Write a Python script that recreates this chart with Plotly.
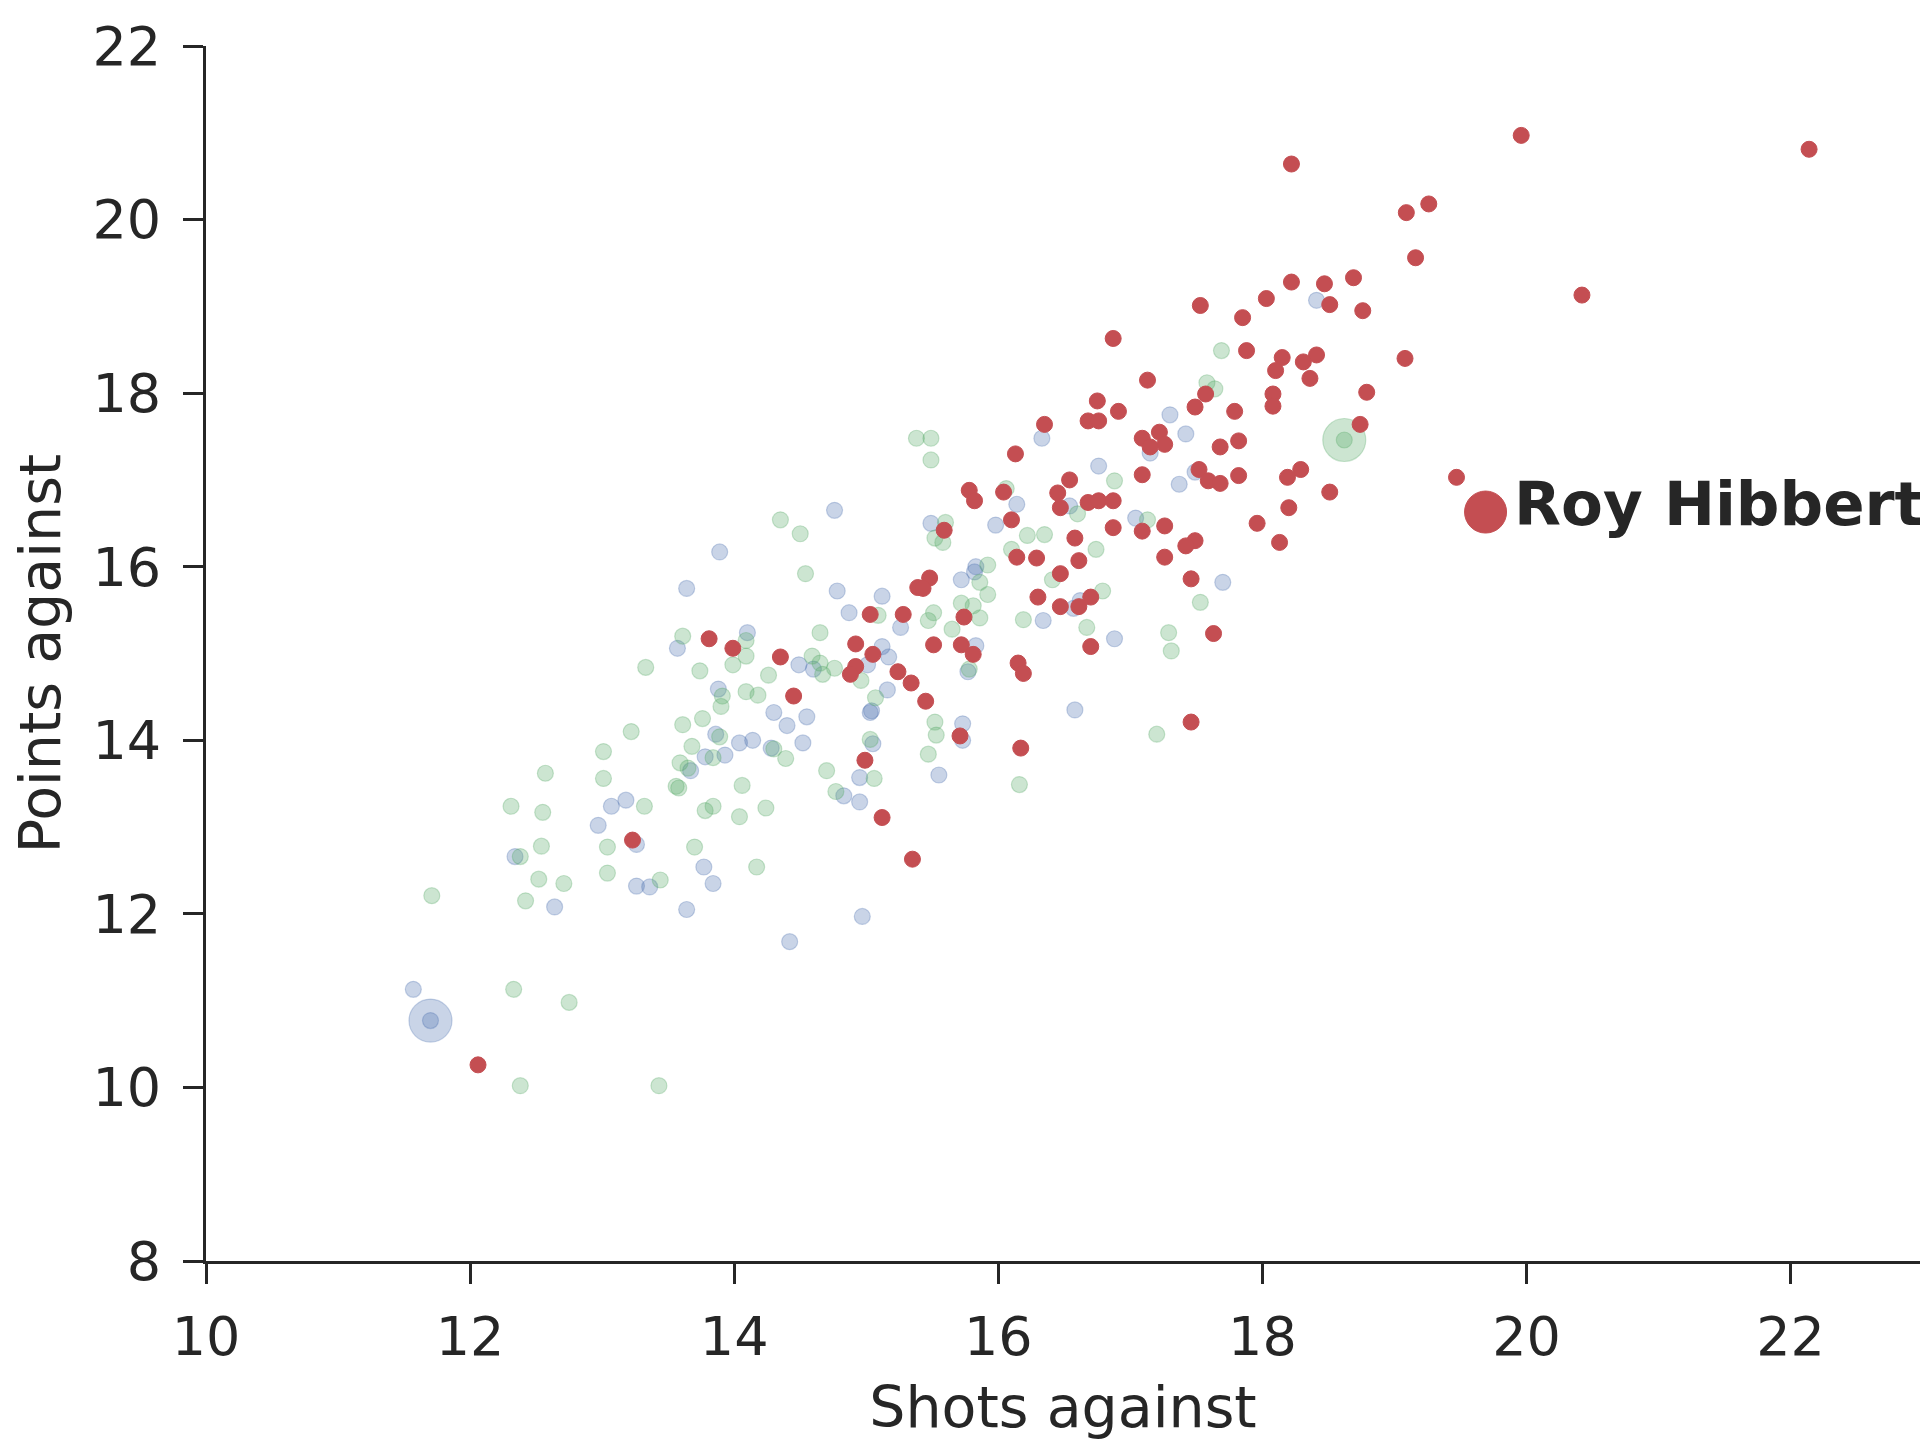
import plotly.graph_objects as go

# ---- data (Shots against, Points against) ----
red_x = [19.96, 22.14, 18.22, 19.26, 19.09, 19.16, 18.69, 18.22, 18.47, 18.03, 18.51, 18.76, 17.53, 20.42,
         17.85, 16.87, 17.88, 18.15, 18.41, 18.31, 18.10, 19.08, 18.36, 17.13, 18.79, 17.57, 18.08, 16.75,
         17.49, 18.08, 17.79, 16.91, 16.68, 16.76, 16.35, 18.74, 17.22, 17.09, 17.26, 17.82, 17.68, 16.13,
         18.29, 18.19, 17.52, 17.82, 17.59, 17.68, 16.54, 17.09, 19.47, 15.78, 16.45, 16.04, 18.51, 15.82,
         16.68, 16.47, 16.76, 16.87, 18.20, 16.10, 17.96, 17.26, 16.87, 17.09, 15.59, 16.58, 17.49, 18.13,
         17.42, 16.14, 16.29, 17.26, 16.61, 16.47, 17.46, 15.48, 15.39, 15.43, 16.30, 16.70, 16.61, 16.47,
         15.03, 15.28, 15.74, 13.81, 17.63, 13.99, 15.51, 15.72, 16.70, 14.92, 14.35, 15.05, 15.81, 16.15,
         14.92, 16.19, 14.88, 15.24, 15.34, 14.45, 15.45, 17.46, 15.71, 16.17, 14.99, 15.12, 13.23, 15.35,
         12.06, 17.15]
red_y = [20.97, 20.81, 20.64, 20.18, 20.08, 19.56, 19.33, 19.28, 19.26, 19.09, 19.02, 18.95, 19.01, 19.13,
         18.87, 18.63, 18.49, 18.41, 18.44, 18.36, 18.26, 18.40, 18.17, 18.15, 18.01, 17.99, 17.99, 17.91,
         17.84, 17.85, 17.79, 17.79, 17.68, 17.68, 17.64, 17.64, 17.55, 17.48, 17.41, 17.45, 17.38, 17.30,
         17.12, 17.03, 17.12, 17.05, 16.99, 16.96, 17.00, 17.06, 17.03, 16.88, 16.85, 16.86, 16.86, 16.76,
         16.74, 16.68, 16.76, 16.76, 16.68, 16.54, 16.50, 16.47, 16.45, 16.41, 16.42, 16.33, 16.30, 16.28,
         16.24, 16.11, 16.10, 16.11, 16.07, 15.92, 15.86, 15.87, 15.76, 15.75, 15.65, 15.65, 15.54, 15.54,
         15.45, 15.45, 15.42, 15.17, 15.23, 15.06, 15.10, 15.10, 15.08, 15.11, 14.96, 14.99, 14.99, 14.89,
         14.85, 14.77, 14.76, 14.79, 14.66, 14.51, 14.45, 14.21, 14.05, 13.91, 13.77, 13.11, 12.85, 12.63,
         10.26, 17.38]

blue_x = [11.57, 11.70, 12.34, 12.64, 12.97, 13.07, 13.18, 13.26, 13.26, 13.36, 13.64, 13.77, 13.84, 13.78,
          13.93, 13.86, 13.88, 14.04, 14.14, 14.28, 14.30, 14.40, 14.52, 14.55, 14.49, 14.60, 14.42, 13.57,
          13.64, 13.89, 14.10, 13.67, 14.76, 14.78, 14.87, 14.83, 14.95, 14.95, 14.97, 15.03, 15.04, 15.12,
          15.12, 15.16, 15.17, 15.26, 15.49, 15.55, 15.72, 15.77, 15.73, 15.73, 15.83, 15.82, 15.83, 15.98,
          16.14, 16.33, 16.34, 16.57, 16.62, 16.58, 16.76, 16.88, 17.15, 17.30, 17.42, 17.37, 17.49, 17.70,
          18.41, 16.54, 17.04, 15.01, 15.05]
blue_y = [11.13, 10.77, 12.66, 12.08, 13.02, 13.24, 13.31, 12.80, 12.32, 12.31, 12.05, 12.54, 12.35, 13.81,
          13.83, 14.07, 14.59, 13.97, 14.00, 13.91, 14.32, 14.17, 13.97, 14.27, 14.87, 14.82, 11.68, 15.06,
          15.75, 16.17, 15.24, 13.65, 16.65, 15.72, 15.47, 13.36, 13.57, 13.29, 11.97, 14.32, 14.34, 15.66,
          15.08, 14.58, 14.96, 15.30, 16.50, 13.60, 15.85, 14.79, 14.19, 14.00, 16.00, 15.94, 15.09, 16.48,
          16.72, 17.48, 15.38, 15.52, 15.61, 14.35, 17.16, 15.17, 17.31, 17.75, 17.53, 16.95, 17.09, 15.82,
          19.07, 16.70, 16.56, 14.87, 13.96]

green_x = [11.71, 12.33, 12.38, 13.43, 12.75, 12.31, 12.38, 12.42, 12.52, 12.55, 12.57, 12.54, 12.71, 13.01,
           13.01, 13.04, 13.04, 13.22, 13.32, 13.33, 13.44, 13.56, 13.58, 13.59, 13.61, 13.61, 13.65, 13.68,
           13.70, 13.74, 13.76, 13.78, 13.84, 13.90, 13.91, 13.84, 13.89, 13.99, 14.06, 14.04, 14.09, 14.09,
           14.09, 14.17, 14.18, 14.24, 14.26, 14.30, 14.35, 14.39, 14.50, 14.54, 14.59, 14.65, 14.65, 14.67,
           14.76, 14.70, 14.77, 15.03, 15.06, 15.07, 15.09, 14.96, 15.38, 15.49, 15.49, 15.52, 15.58, 15.60,
           15.47, 15.52, 15.53, 15.51, 15.47, 15.65, 15.72, 15.81, 15.86, 15.86, 15.92, 15.92, 15.78, 16.10,
           16.16, 16.19, 16.22, 16.35, 16.41, 16.60, 16.67, 16.74, 16.79, 16.88, 17.13, 17.20, 17.29, 17.31,
           17.53, 17.58, 17.64, 17.69, 16.06, 18.62]
green_y = [12.21, 11.13, 10.02, 10.02, 10.98, 13.24, 12.66, 12.15, 12.40, 13.17, 13.62, 12.78, 12.35, 13.87,
           13.56, 12.77, 12.47, 14.10, 13.24, 14.84, 12.39, 13.47, 13.45, 13.74, 14.18, 15.20, 13.68, 13.93,
           12.77, 14.80, 14.25, 13.19, 13.24, 14.39, 14.51, 13.80, 14.04, 14.87, 13.48, 13.12, 14.97, 14.56,
           15.15, 12.54, 14.52, 13.22, 14.75, 13.90, 16.54, 13.79, 16.38, 15.92, 14.97, 15.24, 14.89, 14.76,
           14.83, 13.65, 13.41, 14.01, 13.56, 14.49, 15.44, 14.69, 17.48, 17.48, 17.23, 16.33, 16.28, 16.51,
           13.84, 14.21, 14.06, 15.47, 15.38, 15.28, 15.58, 15.55, 15.41, 15.82, 16.02, 15.68, 14.82, 16.20,
           13.49, 15.39, 16.36, 16.37, 15.85, 16.61, 15.30, 16.20, 15.72, 16.99, 16.54, 14.07, 15.24, 15.03,
           15.59, 18.12, 18.05, 18.49, 16.90, 17.46]

highlight_blue = (11.70, 10.77)
highlight_green = (18.62, 17.46)
roy_name = "Roy Hibbert"
roy_point = (19.69, 16.63)

x_ticks = [10, 12, 14, 16, 18, 20, 22]
y_ticks = [8, 10, 12, 14, 16, 18, 20, 22]

# ---- styling ----
BLUE = "rgba(76,114,176,0.30)"
GREEN = "rgba(85,168,104,0.30)"
RED = "#C44E52"
INK = "#262626"
FONT = "DejaVu Sans"

fig = go.Figure()
fig.add_trace(go.Scatter(x=blue_x, y=blue_y, mode="markers",
                         marker=dict(size=16, color=BLUE, line=dict(color=BLUE, width=1.2))))
fig.add_trace(go.Scatter(x=green_x, y=green_y, mode="markers",
                         marker=dict(size=16, color=GREEN, line=dict(color=GREEN, width=1.2))))
fig.add_trace(go.Scatter(x=[highlight_blue[0]], y=[highlight_blue[1]], mode="markers",
                         marker=dict(size=43, color=BLUE, line=dict(color=BLUE, width=1.2))))
fig.add_trace(go.Scatter(x=[highlight_green[0]], y=[highlight_green[1]], mode="markers",
                         marker=dict(size=43, color=GREEN, line=dict(color=GREEN, width=1.2))))
fig.add_trace(go.Scatter(x=red_x, y=red_y, mode="markers",
                         marker=dict(size=16, color=RED, line=dict(color=RED, width=1))))
fig.add_trace(go.Scatter(x=[roy_point[0]], y=[roy_point[1]], mode="markers",
                         marker=dict(size=42, color=RED, line=dict(color=RED, width=1))))

fig.add_annotation(x=roy_point[0], y=roy_point[1], text="<b>" + roy_name + "</b>",
                   showarrow=False, xanchor="left", yanchor="middle", xshift=26, yshift=9,
                   font=dict(family=FONT, size=61, color=INK))

axis_common = dict(showline=True, linecolor=INK, linewidth=3, ticks="outside", ticklen=20,
                   tickwidth=2.5, tickcolor=INK, showgrid=False, zeroline=False,
                   tickfont=dict(family=FONT, size=54, color=INK))

fig.update_xaxes(range=[10, 22.98], tickvals=x_ticks, ticktext=[str(v) for v in x_ticks],
                 ticklabelstandoff=6,
                 title=dict(text="Shots against", font=dict(family=FONT, size=57, color=INK), standoff=22),
                 **axis_common)
fig.update_yaxes(range=[8, 22], tickvals=y_ticks, ticktext=[str(v) for v in y_ticks],
                 ticklabelstandoff=11,
                 title=dict(text="Points against", font=dict(family=FONT, size=57, color=INK), standoff=14),
                 **axis_common)

fig.update_layout(width=1920, height=1440, showlegend=False,
                  plot_bgcolor="white", paper_bgcolor="white",
                  margin=dict(l=206, r=0, t=46, b=179),
                  font=dict(family=FONT, color=INK))

fig.write_html("out.html")
